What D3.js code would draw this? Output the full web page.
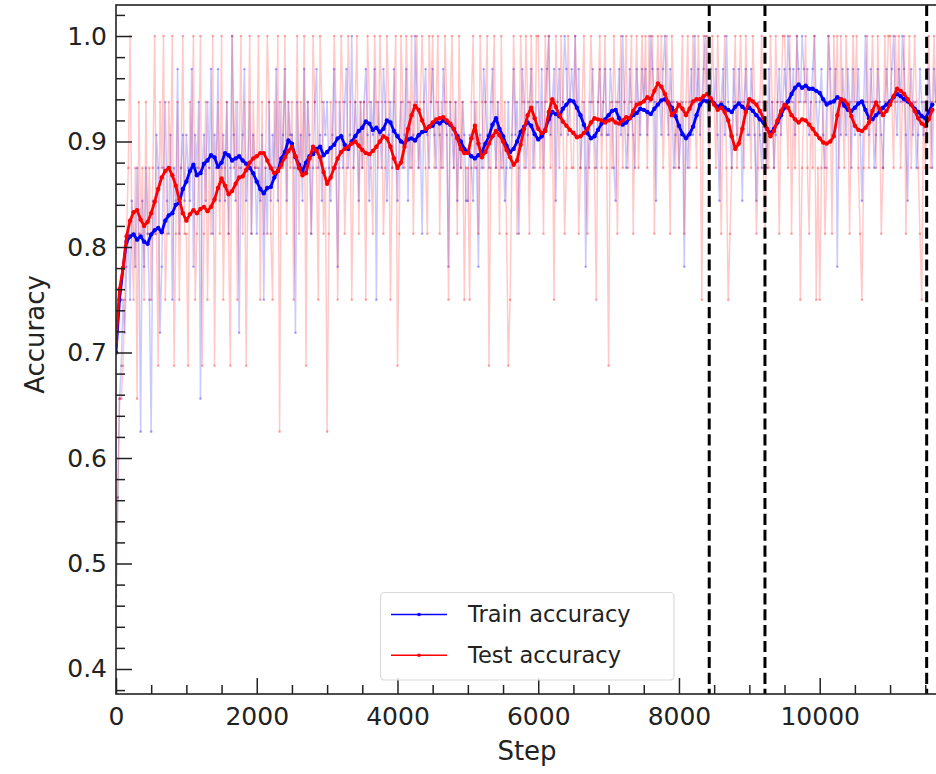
<!DOCTYPE html>
<html><head><meta charset="utf-8">
<script src="https://cdn.jsdelivr.net/npm/d3@7"></script>
<style>body{margin:0;background:#fff} svg{display:block;font-family:"DejaVu Sans",sans-serif}</style>
</head><body><svg id="c" width="936" height="774"></svg>
<script>
// ---------- data ----------
const rawInterval = 25;     // steps between raw (per-batch) points
const smoothInterval = 50;  // steps between smoothed points
const seriesNames = ["Train accuracy", "Test accuracy"];
const xTicks = [0, 2000, 4000, 6000, 8000, 10000];
const yTicks = [0.4, 0.5, 0.6, 0.7, 0.8, 0.9, 1.0];
const epochMarks = [8430, 9222, 11520];

const trainRaw = [
0.46875,0.5625,0.65625,0.6875,0.75,0.71875,0.78125,0.8125,0.75,0.84375,0.8125,0.78125,0.875,0.8125,0.625,0.84375,0.78125,0.875,0.8125,0.75,
0.625,0.84375,0.8125,0.90625,0.875,0.71875,0.78125,0.875,0.9375,0.84375,0.8125,0.90625,0.75,0.875,0.84375,0.96875,0.8125,0.875,0.90625,0.84375,
0.90625,0.875,0.84375,0.96875,0.78125,0.90625,0.875,0.9375,0.65625,0.875,0.90625,0.84375,0.9375,0.875,0.96875,0.8125,0.90625,0.875,0.96875,0.84375,
0.875,0.90625,0.84375,0.9375,0.8125,0.875,1.0,0.90625,0.84375,0.9375,0.71875,0.875,0.90625,0.96875,0.84375,0.875,0.9375,0.8125,0.90625,0.875,
0.8125,0.875,0.84375,0.90625,0.75,0.875,0.8125,0.9375,0.84375,0.90625,0.875,0.96875,0.84375,0.9375,0.875,0.90625,0.96875,0.84375,0.9375,0.90625,
0.90625,0.875,0.71875,0.9375,0.875,0.90625,0.84375,0.96875,0.875,0.9375,0.90625,0.8125,0.875,0.9375,0.96875,0.875,0.90625,0.84375,0.9375,0.90625,
0.9375,0.875,0.84375,0.90625,0.96875,0.875,0.78125,0.9375,0.90625,0.875,0.9375,0.96875,0.875,0.90625,1.0,0.875,0.9375,0.90625,0.84375,0.9375,
0.875,0.9375,0.96875,0.90625,0.84375,0.9375,0.90625,0.96875,0.75,0.9375,0.90625,0.875,0.96875,0.9375,0.84375,0.90625,0.9375,0.875,0.96875,0.90625,
0.84375,0.90625,0.9375,0.875,0.90625,0.96875,0.84375,0.9375,0.875,0.90625,1.0,0.9375,0.875,0.90625,0.8125,0.9375,0.96875,0.90625,0.875,0.9375,
0.96875,0.90625,0.875,0.9375,0.90625,0.875,0.96875,0.9375,0.90625,0.78125,0.9375,0.90625,0.875,0.9375,0.84375,0.90625,0.875,0.9375,0.90625,0.84375,
0.84375,0.90625,0.875,0.84375,0.9375,0.875,0.78125,0.90625,0.875,0.96875,0.9375,0.90625,0.875,0.9375,0.96875,0.90625,0.875,0.9375,0.90625,0.875,
0.90625,0.84375,0.875,0.9375,0.875,0.90625,0.96875,0.90625,0.9375,0.8125,0.90625,0.96875,0.9375,0.875,0.90625,0.9375,0.96875,0.875,0.90625,0.9375,
0.9375,0.90625,0.96875,0.875,0.9375,0.96875,1.0,0.90625,0.9375,0.96875,0.84375,0.9375,0.96875,0.90625,0.9375,1.0,0.96875,0.90625,0.9375,0.96875,
0.9375,1.0,0.90625,0.96875,0.875,0.90625,0.9375,0.78125,0.90625,0.875,0.9375,0.96875,0.90625,0.875,0.9375,0.96875,0.90625,0.9375,0.96875,0.90625,
0.90625,0.96875,0.9375,0.875,0.84375,0.9375,0.96875,0.90625,1.0,0.9375,0.875,0.90625,0.96875,0.9375,0.90625,0.875,0.96875,0.9375,0.90625,0.96875,
0.9375,0.96875,0.90625,0.9375,1.0,0.96875,0.9375,0.84375,0.96875,0.9375,0.90625,0.96875,1.0,0.9375,0.90625,0.96875,0.9375,0.875,0.90625,0.9375,
0.875,0.90625,0.9375,0.78125,0.90625,0.875,0.9375,0.96875,0.90625,1.0,0.9375,0.96875,0.90625,0.9375,0.96875,1.0,0.9375,0.90625,0.96875,0.9375,
0.9375,0.96875,0.90625,0.84375,0.9375,0.96875,0.90625,1.0,0.9375,0.90625,0.875,0.96875,0.9375,0.90625,0.96875,0.9375,0.84375,0.9375,0.96875,0.90625,
0.90625,0.96875,0.9375,0.90625,0.84375,0.9375,0.90625,0.875,0.9375,0.90625,0.875,0.96875,0.90625,0.9375,0.875,0.90625,0.9375,0.96875,0.90625,0.9375,
0.96875,0.9375,1.0,0.96875,0.9375,0.96875,0.90625,1.0,0.96875,0.9375,1.0,0.96875,0.9375,0.96875,0.90625,0.9375,0.96875,1.0,0.9375,0.90625,
0.9375,0.96875,0.90625,0.875,0.9375,1.0,0.96875,0.90625,0.9375,0.96875,0.78125,0.9375,0.90625,0.96875,0.9375,0.90625,0.96875,0.9375,0.875,0.96875,
0.90625,0.9375,0.96875,0.90625,0.84375,0.9375,1.0,0.9375,0.90625,0.96875,0.9375,0.875,0.90625,0.96875,0.9375,0.90625,0.875,0.9375,0.96875,0.9375,
0.9375,0.96875,1.0,0.9375,0.90625,0.96875,0.9375,1.0,0.96875,0.90625,0.84375,0.9375,0.96875,0.90625,0.9375,0.875,0.90625,0.96875,0.9375,0.90625,
0.9375,0.90625,0.96875,0.9375,0.875,0.96875,0.9375
];

const testRaw = [
0.4375,0.5625,0.65625,0.65625,0.6875,0.75,0.8125,0.875,1.0,0.8125,0.75,0.875,0.65625,0.9375,0.8125,0.875,0.75,0.9375,0.8125,0.875,
0.75,0.875,1.0,0.8125,0.6875,0.9375,0.875,1.0,0.75,0.8125,0.9375,0.875,1.0,0.6875,0.8125,0.9375,0.75,0.875,1.0,0.8125,
0.8125,0.6875,0.9375,0.875,1.0,0.75,0.8125,0.875,1.0,0.6875,0.8125,0.9375,0.75,0.875,0.8125,1.0,0.6875,0.875,0.9375,0.8125,
1.0,0.75,0.875,0.9375,0.8125,0.6875,1.0,0.875,0.9375,0.75,0.875,1.0,0.8125,0.9375,0.6875,0.875,1.0,0.8125,0.9375,0.875,
0.875,1.0,0.75,0.9375,0.8125,0.875,1.0,0.9375,0.8125,0.75,0.9375,0.875,1.0,0.625,0.9375,0.875,1.0,0.8125,0.9375,0.875,
0.9375,0.75,0.875,1.0,0.8125,0.9375,0.875,1.0,0.6875,0.9375,0.875,0.8125,1.0,0.9375,0.875,0.75,1.0,0.9375,0.8125,0.875,
0.625,0.8125,0.9375,0.875,1.0,0.9375,0.75,0.875,1.0,0.9375,0.8125,0.875,1.0,0.9375,0.75,0.875,0.9375,1.0,0.8125,0.9375,
0.875,0.9375,0.75,1.0,0.9375,0.875,0.8125,1.0,0.9375,0.875,1.0,0.9375,0.8125,0.875,1.0,0.9375,0.75,0.875,0.9375,1.0,
0.6875,0.8125,1.0,0.9375,0.875,1.0,0.9375,0.875,1.0,0.8125,0.9375,1.0,0.875,0.9375,1.0,0.9375,0.875,0.8125,1.0,0.9375,
1.0,0.875,0.9375,1.0,0.8125,0.9375,0.875,1.0,0.9375,0.75,0.9375,1.0,0.875,0.9375,0.8125,1.0,0.875,0.9375,0.75,0.875,
0.875,0.75,0.9375,1.0,0.875,0.9375,0.8125,1.0,0.9375,0.875,0.9375,1.0,0.6875,0.875,0.9375,1.0,0.875,0.9375,0.8125,1.0,
0.875,0.9375,0.8125,0.6875,0.75,0.875,1.0,0.9375,0.8125,0.875,1.0,0.9375,0.875,1.0,0.9375,0.8125,1.0,0.9375,0.875,1.0,
1.0,0.875,0.9375,0.8125,1.0,0.9375,1.0,0.875,0.9375,0.75,1.0,0.9375,0.875,1.0,0.9375,0.8125,0.875,1.0,0.9375,0.875,
0.875,1.0,0.9375,0.8125,0.875,0.9375,1.0,0.875,0.8125,0.9375,1.0,0.9375,0.875,0.75,0.9375,1.0,0.875,0.9375,1.0,0.875,
0.6875,0.9375,0.875,1.0,0.9375,0.8125,0.9375,1.0,0.875,0.9375,1.0,0.875,0.9375,1.0,0.8125,0.9375,1.0,0.875,0.9375,1.0,
0.9375,1.0,0.875,1.0,0.9375,1.0,0.8125,0.9375,1.0,0.9375,1.0,0.875,0.9375,1.0,0.9375,0.8125,1.0,0.9375,0.875,0.9375,
0.875,0.9375,1.0,0.8125,0.9375,1.0,0.875,0.9375,1.0,0.9375,0.875,1.0,0.9375,0.75,1.0,0.9375,1.0,0.875,0.9375,1.0,
0.9375,0.875,1.0,0.9375,0.8125,0.9375,1.0,0.875,0.75,0.8125,0.875,0.9375,1.0,0.875,0.9375,1.0,0.9375,0.875,1.0,0.9375,
0.9375,0.875,1.0,0.9375,0.8125,0.875,0.9375,1.0,0.875,0.8125,0.9375,0.875,1.0,0.9375,0.875,1.0,0.9375,0.8125,0.9375,1.0,
1.0,0.9375,0.875,1.0,0.8125,0.9375,0.875,1.0,0.9375,0.75,0.875,0.9375,1.0,0.875,0.8125,0.9375,0.875,1.0,0.75,0.875,
0.75,0.875,0.9375,0.8125,0.875,1.0,0.9375,0.8125,1.0,0.9375,1.0,0.875,1.0,0.9375,0.875,1.0,0.9375,0.8125,0.9375,1.0,
0.9375,1.0,0.875,0.8125,0.75,0.875,0.9375,1.0,0.875,0.9375,1.0,0.9375,0.875,1.0,0.9375,0.8125,0.875,1.0,0.9375,1.0,
1.0,0.9375,0.875,1.0,0.9375,1.0,0.875,0.9375,1.0,0.8125,0.9375,1.0,0.875,0.9375,1.0,0.9375,0.875,0.8125,0.75,0.9375,
0.875,0.9375,1.0,0.875,0.9375,1.0,0.9375
];

const trainSmooth = [
0.70,0.75,0.78,0.805,0.81,0.812,0.807,0.81,0.805,0.803,0.812,0.816,0.818,0.814,0.825,0.83,0.832,0.84,0.842,0.855,
0.862,0.872,0.878,0.868,0.870,0.879,0.882,0.887,0.885,0.876,0.880,0.889,0.887,0.882,0.884,0.886,0.882,0.879,0.875,0.870,
0.862,0.855,0.851,0.856,0.857,0.866,0.872,0.884,0.890,0.901,0.898,0.885,0.878,0.872,0.880,0.886,0.888,0.893,0.895,0.887,
0.890,0.894,0.897,0.903,0.905,0.897,0.893,0.900,0.905,0.910,0.913,0.919,0.917,0.911,0.913,0.909,0.912,0.920,0.918,0.910,
0.905,0.900,0.898,0.902,0.903,0.901,0.906,0.909,0.910,0.914,0.915,0.919,0.917,0.920,0.918,0.916,0.912,0.905,0.900,0.893,
0.890,0.886,0.884,0.887,0.890,0.898,0.905,0.916,0.922,0.912,0.905,0.896,0.890,0.893,0.900,0.909,0.914,0.918,0.915,0.907,
0.902,0.905,0.911,0.921,0.928,0.926,0.924,0.931,0.935,0.939,0.938,0.932,0.925,0.916,0.908,0.903,0.905,0.911,0.917,0.921,
0.925,0.929,0.930,0.922,0.916,0.918,0.922,0.925,0.927,0.931,0.930,0.928,0.926,0.931,0.935,0.939,0.940,0.937,0.932,0.924,
0.915,0.907,0.903,0.907,0.914,0.925,0.935,0.939,0.938,0.940,0.936,0.933,0.935,0.932,0.930,0.928,0.933,0.936,0.933,0.930,
0.932,0.929,0.925,0.921,0.918,0.912,0.908,0.912,0.918,0.925,0.932,0.938,0.945,0.951,0.954,0.951,0.953,0.950,0.950,0.948,
0.946,0.940,0.935,0.937,0.938,0.942,0.940,0.934,0.930,0.929,0.932,0.936,0.938,0.930,0.922,0.921,0.925,0.928,0.932,0.935,
0.938,0.942,0.945,0.943,0.940,0.938,0.935,0.931,0.928,0.924,0.922,0.928,0.935
];

const testSmooth = [
0.71,0.76,0.78,0.81,0.825,0.833,0.835,0.826,0.82,0.824,0.832,0.843,0.855,0.866,0.872,0.875,0.868,0.858,0.845,0.832,
0.825,0.831,0.835,0.832,0.836,0.838,0.834,0.838,0.845,0.856,0.865,0.858,0.85,0.853,0.86,0.866,0.867,0.873,0.88,0.884,
0.886,0.889,0.889,0.882,0.875,0.870,0.872,0.878,0.885,0.891,0.895,0.886,0.875,0.868,0.870,0.884,0.895,0.891,0.885,0.871,
0.860,0.866,0.875,0.884,0.890,0.893,0.895,0.898,0.900,0.896,0.892,0.889,0.888,0.891,0.895,0.900,0.905,0.903,0.895,0.884,
0.875,0.880,0.895,0.912,0.925,0.934,0.930,0.920,0.912,0.914,0.918,0.921,0.922,0.923,0.92,0.917,0.912,0.903,0.893,0.889,
0.889,0.903,0.915,0.898,0.885,0.890,0.898,0.905,0.910,0.906,0.900,0.892,0.885,0.878,0.882,0.897,0.912,0.925,0.932,0.922,
0.912,0.908,0.910,0.928,0.940,0.933,0.925,0.919,0.915,0.911,0.908,0.904,0.905,0.908,0.912,0.918,0.922,0.921,0.920,0.918,
0.920,0.921,0.918,0.917,0.920,0.923,0.922,0.929,0.935,0.936,0.938,0.942,0.940,0.948,0.955,0.952,0.945,0.936,0.925,0.929,
0.935,0.931,0.925,0.931,0.938,0.940,0.94,0.943,0.945,0.941,0.935,0.930,0.932,0.928,0.920,0.905,0.893,0.898,0.912,0.928,
0.940,0.938,0.935,0.929,0.922,0.912,0.905,0.910,0.920,0.929,0.935,0.932,0.925,0.921,0.918,0.921,0.920,0.916,0.912,0.907,
0.903,0.899,0.898,0.900,0.905,0.925,0.940,0.939,0.935,0.924,0.915,0.911,0.910,0.913,0.918,0.929,0.937,0.931,0.925,0.929,
0.935,0.943,0.950,0.948,0.945,0.940,0.935,0.929,0.922,0.917,0.915,0.921,0.930
];

// ---------- chart ----------
const svg = d3.select("#c");
const pLeft = 116, pRight = 938, pTop = 5, pBottom = 694;
const x = d3.scaleLinear().domain([0, 11681]).range([pLeft, pRight]);
const y = d3.scaleLinear().domain([0.3763, 1.0294]).range([pBottom, pTop]);

svg.append("defs").append("clipPath").attr("id", "clip")
  .append("rect").attr("x", pLeft).attr("y", pTop).attr("width", pRight - pLeft).attr("height", pBottom - pTop);

const plot = svg.append("g").attr("clip-path", "url(#clip)");

function toPts(arr, interval) { return arr.map((v, i) => [i * interval, v]); }
const line = d3.line().x(d => x(d[0])).y(d => y(d[1]));

const series = [
  {raw: toPts(trainRaw, rawInterval), smooth: toPts(trainSmooth, smoothInterval), color: "#0000ff"},
  {raw: toPts(testRaw, rawInterval), smooth: toPts(testSmooth, smoothInterval), color: "#ff0000"}
];

// raw (faint)
series.forEach(s => {
  plot.append("path").datum(s.raw).attr("d", line)
    .attr("fill", "none").attr("stroke", s.color).attr("stroke-opacity", 0.21).attr("stroke-width", 1.5);
  plot.append("g").selectAll("circle").data(s.raw).join("circle")
    .attr("cx", d => x(d[0])).attr("cy", d => y(d[1])).attr("r", 1.3)
    .attr("fill", s.color).attr("fill-opacity", 0.32);
});
// smoothed (bold)
series.forEach(s => {
  plot.append("path").datum(s.smooth).attr("d", line)
    .attr("fill", "none").attr("stroke", s.color).attr("stroke-width", 2.8).attr("stroke-linejoin", "round");
  plot.append("g").selectAll("circle").data(s.smooth).join("circle")
    .attr("cx", d => x(d[0])).attr("cy", d => y(d[1])).attr("r", 2.2).attr("fill", s.color);
});

// epoch dashed lines
svg.append("g").selectAll("line").data(epochMarks).join("line")
  .attr("x1", d => x(d)).attr("x2", d => x(d)).attr("y1", pTop).attr("y2", pBottom)
  .attr("stroke", "#000").attr("stroke-width", 3).attr("stroke-dasharray", "11.1,4.8");

// axes
const tickColor = "#222";
const yMinor = d3.range(0.38, 1.03, 0.02).filter(v => Math.abs(Math.round(v * 10) - v * 10) > 1e-6);
const xMinor = d3.range(0, 11681, 500).filter(v => v % 2000 !== 0);

const gy = svg.append("g").attr("transform", `translate(${pLeft},0)`)
  .call(d3.axisLeft(y).tickValues(yTicks).tickFormat(d3.format(".1f")).tickSize(-16).tickPadding(9));
const gyMinor = svg.append("g").attr("transform", `translate(${pLeft},0)`)
  .call(d3.axisLeft(y).tickValues(yMinor).tickFormat("").tickSize(-9));
const gx = svg.append("g").attr("transform", `translate(0,${pBottom})`)
  .call(d3.axisBottom(x).tickValues(xTicks).tickFormat(d3.format("d")).tickSize(-16).tickPadding(13));
const gxMinor = svg.append("g").attr("transform", `translate(0,${pBottom})`)
  .call(d3.axisBottom(x).tickValues(xMinor).tickFormat("").tickSize(-9));

[gy, gyMinor, gx, gxMinor].forEach(g => {
  g.select(".domain").remove();
  g.selectAll(".tick line").attr("stroke", tickColor).attr("stroke-width", 1.5);
  g.selectAll(".tick text").attr("fill", tickColor).attr("font-size", 25)
    .attr("font-family", '"DejaVu Sans",sans-serif');
});

// frame
svg.append("rect").attr("x", pLeft).attr("y", pTop).attr("width", pRight - pLeft).attr("height", pBottom - pTop)
  .attr("fill", "none").attr("stroke", tickColor).attr("stroke-width", 1.6);

// axis labels
svg.append("text").attr("x", (pLeft + pRight) / 2).attr("y", 760).attr("text-anchor", "middle")
  .attr("font-size", 26).attr("fill", tickColor).text("Step");
svg.append("text").attr("transform", `translate(44,${(pTop + pBottom) / 2 - 15}) rotate(-90)`)
  .attr("text-anchor", "middle").attr("font-size", 26).attr("fill", tickColor).text("Accuracy");

// legend
const lg = svg.append("g");
lg.append("rect").attr("x", 380.5).attr("y", 592.5).attr("width", 293.5).attr("height", 87.5).attr("rx", 4)
  .attr("fill", "#fff").attr("fill-opacity", 0.8).attr("stroke", "#d9d9d9").attr("stroke-width", 1.2);
seriesNames.forEach((name, i) => {
  const yy = 614.5 + i * 40.7;
  const col = series[i].color;
  lg.append("line").attr("x1", 391).attr("x2", 447).attr("y1", yy).attr("y2", yy)
    .attr("stroke", col).attr("stroke-width", 1.4);
  lg.append("circle").attr("cx", 419).attr("cy", yy).attr("r", 1.8).attr("fill", col);
  lg.append("text").attr("x", 468).attr("y", yy).attr("dy", "0.35em")
    .attr("font-size", 22.5).attr("fill", tickColor).text(name);
});
</script></body></html>
